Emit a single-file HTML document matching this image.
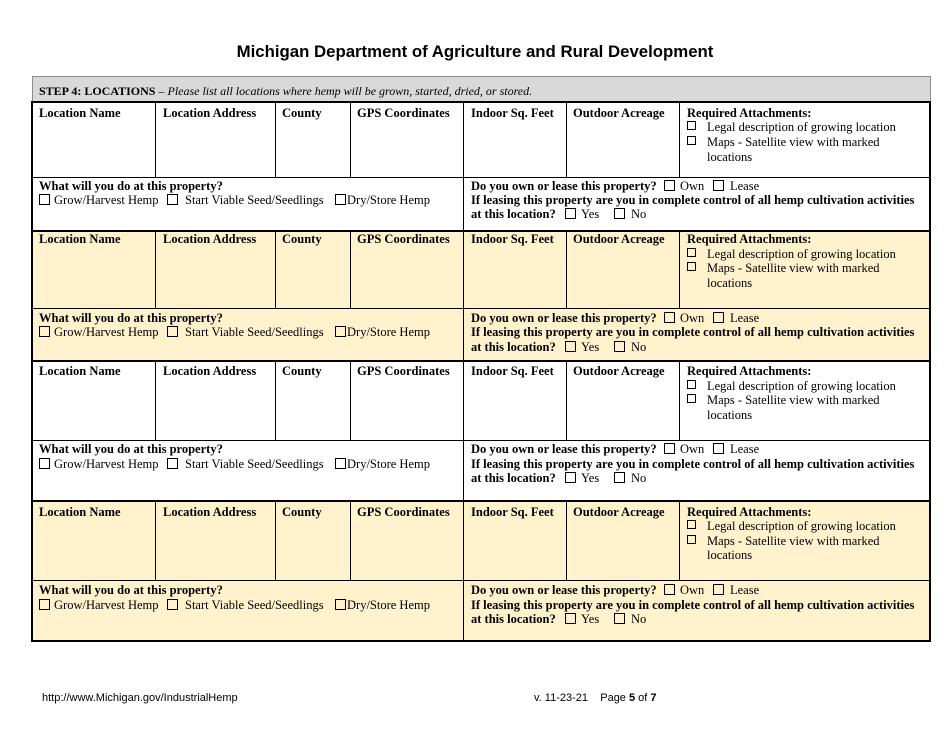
<!DOCTYPE html>
<html><head><meta charset="utf-8"><style>
html,body{margin:0;padding:0;background:#fff;}
body{width:950px;height:735px;position:relative;overflow:hidden;font-family:"Liberation Serif",serif;color:#000;}
.t{position:absolute;font-size:12.5px;line-height:16px;white-space:nowrap;margin-top:1px;}
.b{font-weight:bold;}
.h{position:absolute;background:#000;height:1px;}
.H{position:absolute;background:#000;height:2px;left:31px;width:900px;}
.v{position:absolute;background:#000;width:1px;}
.cb{position:absolute;width:9px;height:9px;border:1px solid #000;background:transparent;}
.sq{position:absolute;width:7px;height:7px;border:1px solid #000;}
.y{position:absolute;left:33px;width:896px;background:#fff2cc;}
</style></head><body>

<div style="position:absolute;left:0;width:950px;top:41px;text-align:center;font-family:'Liberation Sans',sans-serif;font-weight:bold;font-size:16.8px;line-height:22px;">Michigan Department of Agriculture and Rural Development</div>

<!-- gray header -->
<div style="position:absolute;left:32px;top:76px;width:897px;height:25px;background:#d9d9d9;border:1px solid #8c8c8c;border-bottom:none;"></div>
<div class="t" style="left:39px;top:82px;font-size:12px;"><b>STEP 4: LOCATIONS</b> – <i>Please list all locations where hemp will be grown, started, dried, or stored.</i></div>

<!-- yellow fills -->
<div class="y" style="top:232px;height:129px;"></div>
<div class="y" style="top:502px;height:139px;"></div>

<!-- thick lines -->
<div class="H" style="top:101px;"></div>
<div class="H" style="top:230px;"></div>
<div class="H" style="top:360px;"></div>
<div class="H" style="top:500px;"></div>
<div class="H" style="top:640px;"></div>
<!-- outer verticals -->
<div style="position:absolute;left:31px;top:101px;width:2px;height:541px;background:#000;"></div>
<div style="position:absolute;left:929px;top:101px;width:2px;height:541px;background:#000;"></div>

<!-- thin horizontals -->
<div class="h" style="left:33px;width:896px;top:177px;"></div>
<div class="h" style="left:33px;width:896px;top:308px;"></div>
<div class="h" style="left:33px;width:896px;top:440px;"></div>
<div class="h" style="left:33px;width:896px;top:580px;"></div>

<!-- verticals group 1 -->
<div class="v" style="left:155px;top:103px;height:74px;"></div>
<div class="v" style="left:275px;top:103px;height:74px;"></div>
<div class="v" style="left:350px;top:103px;height:74px;"></div>
<div class="v" style="left:463px;top:103px;height:127px;"></div>
<div class="v" style="left:566px;top:103px;height:74px;"></div>
<div class="v" style="left:679px;top:103px;height:74px;"></div>
<!-- group 2 -->
<div class="v" style="left:155px;top:232px;height:76px;"></div>
<div class="v" style="left:275px;top:232px;height:76px;"></div>
<div class="v" style="left:350px;top:232px;height:76px;"></div>
<div class="v" style="left:463px;top:232px;height:128px;"></div>
<div class="v" style="left:566px;top:232px;height:76px;"></div>
<div class="v" style="left:679px;top:232px;height:76px;"></div>
<!-- group 3 -->
<div class="v" style="left:155px;top:362px;height:78px;"></div>
<div class="v" style="left:275px;top:362px;height:78px;"></div>
<div class="v" style="left:350px;top:362px;height:78px;"></div>
<div class="v" style="left:463px;top:362px;height:138px;"></div>
<div class="v" style="left:566px;top:362px;height:78px;"></div>
<div class="v" style="left:679px;top:362px;height:78px;"></div>
<!-- group 4 -->
<div class="v" style="left:155px;top:502px;height:78px;"></div>
<div class="v" style="left:275px;top:502px;height:78px;"></div>
<div class="v" style="left:350px;top:502px;height:78px;"></div>
<div class="v" style="left:463px;top:502px;height:138px;"></div>
<div class="v" style="left:566px;top:502px;height:78px;"></div>
<div class="v" style="left:679px;top:502px;height:78px;"></div>

<!-- G1 -->
<div class="t b" style="left:39px;top:104px;">Location Name</div>
<div class="t b" style="left:163px;top:104px;">Location Address</div>
<div class="t b" style="left:282px;top:104px;">County</div>
<div class="t b" style="left:357px;top:104px;">GPS Coordinates</div>
<div class="t b" style="left:471px;top:104px;">Indoor Sq. Feet</div>
<div class="t b" style="left:573px;top:104px;">Outdoor Acreage</div>
<div class="t b" style="left:687px;top:104px;">Required Attachments:</div>
<div class="sq" style="left:687px;top:121px;"></div><div class="t" style="left:707px;top:118px;">Legal description of growing location</div>
<div class="sq" style="left:687px;top:136px;"></div><div class="t" style="left:707px;top:133px;">Maps - Satellite view with marked</div>
<div class="t" style="left:707px;top:148px;">locations</div>

<div class="t b" style="left:39px;top:177px;">What will you do at this property?</div>
<div class="cb" style="left:39px;top:194px;"></div><div class="t" style="left:54px;top:191px;">Grow/Harvest Hemp</div>
<div class="cb" style="left:167px;top:194px;"></div><div class="t" style="left:185px;top:191px;">Start Viable Seed/Seedlings</div>
<div class="cb" style="left:335px;top:194px;"></div><div class="t" style="left:347px;top:191px;">Dry/Store Hemp</div>
<div class="t b" style="left:471px;top:177px;">Do you own or lease this property?</div>
<div class="cb" style="left:664px;top:180px;"></div><div class="t" style="left:680px;top:177px;">Own</div>
<div class="cb" style="left:713px;top:180px;"></div><div class="t" style="left:730px;top:177px;">Lease</div>
<div class="t b" style="left:471px;top:191px;">If leasing this property are you in complete control of all hemp cultivation activities</div>
<div class="t b" style="left:471px;top:205px;">at this location?</div>
<div class="cb" style="left:565px;top:208px;"></div><div class="t" style="left:581px;top:205px;">Yes</div>
<div class="cb" style="left:614px;top:208px;"></div><div class="t" style="left:631px;top:205px;">No</div>

<!-- G2 -->
<div class="t b" style="left:39px;top:230px;">Location Name</div>
<div class="t b" style="left:163px;top:230px;">Location Address</div>
<div class="t b" style="left:282px;top:230px;">County</div>
<div class="t b" style="left:357px;top:230px;">GPS Coordinates</div>
<div class="t b" style="left:471px;top:230px;">Indoor Sq. Feet</div>
<div class="t b" style="left:573px;top:230px;">Outdoor Acreage</div>
<div class="t b" style="left:687px;top:230px;">Required Attachments:</div>
<div class="sq" style="left:687px;top:248px;"></div><div class="t" style="left:707px;top:245px;">Legal description of growing location</div>
<div class="sq" style="left:687px;top:262px;"></div><div class="t" style="left:707px;top:259px;">Maps - Satellite view with marked</div>
<div class="t" style="left:707px;top:274px;">locations</div>

<div class="t b" style="left:39px;top:309px;">What will you do at this property?</div>
<div class="cb" style="left:39px;top:326px;"></div><div class="t" style="left:54px;top:323px;">Grow/Harvest Hemp</div>
<div class="cb" style="left:167px;top:326px;"></div><div class="t" style="left:185px;top:323px;">Start Viable Seed/Seedlings</div>
<div class="cb" style="left:335px;top:326px;"></div><div class="t" style="left:347px;top:323px;">Dry/Store Hemp</div>
<div class="t b" style="left:471px;top:309px;">Do you own or lease this property?</div>
<div class="cb" style="left:664px;top:312px;"></div><div class="t" style="left:680px;top:309px;">Own</div>
<div class="cb" style="left:713px;top:312px;"></div><div class="t" style="left:730px;top:309px;">Lease</div>
<div class="t b" style="left:471px;top:323px;">If leasing this property are you in complete control of all hemp cultivation activities</div>
<div class="t b" style="left:471px;top:338px;">at this location?</div>
<div class="cb" style="left:565px;top:341px;"></div><div class="t" style="left:581px;top:338px;">Yes</div>
<div class="cb" style="left:614px;top:341px;"></div><div class="t" style="left:631px;top:338px;">No</div>

<!-- G3 -->
<div class="t b" style="left:39px;top:362px;">Location Name</div>
<div class="t b" style="left:163px;top:362px;">Location Address</div>
<div class="t b" style="left:282px;top:362px;">County</div>
<div class="t b" style="left:357px;top:362px;">GPS Coordinates</div>
<div class="t b" style="left:471px;top:362px;">Indoor Sq. Feet</div>
<div class="t b" style="left:573px;top:362px;">Outdoor Acreage</div>
<div class="t b" style="left:687px;top:362px;">Required Attachments:</div>
<div class="sq" style="left:687px;top:380px;"></div><div class="t" style="left:707px;top:377px;">Legal description of growing location</div>
<div class="sq" style="left:687px;top:394px;"></div><div class="t" style="left:707px;top:391px;">Maps - Satellite view with marked</div>
<div class="t" style="left:707px;top:406px;">locations</div>

<div class="t b" style="left:39px;top:440px;">What will you do at this property?</div>
<div class="cb" style="left:39px;top:458px;"></div><div class="t" style="left:54px;top:455px;">Grow/Harvest Hemp</div>
<div class="cb" style="left:167px;top:458px;"></div><div class="t" style="left:185px;top:455px;">Start Viable Seed/Seedlings</div>
<div class="cb" style="left:335px;top:458px;"></div><div class="t" style="left:347px;top:455px;">Dry/Store Hemp</div>
<div class="t b" style="left:471px;top:440px;">Do you own or lease this property?</div>
<div class="cb" style="left:664px;top:443px;"></div><div class="t" style="left:680px;top:440px;">Own</div>
<div class="cb" style="left:713px;top:443px;"></div><div class="t" style="left:730px;top:440px;">Lease</div>
<div class="t b" style="left:471px;top:455px;">If leasing this property are you in complete control of all hemp cultivation activities</div>
<div class="t b" style="left:471px;top:469px;">at this location?</div>
<div class="cb" style="left:565px;top:472px;"></div><div class="t" style="left:581px;top:469px;">Yes</div>
<div class="cb" style="left:614px;top:472px;"></div><div class="t" style="left:631px;top:469px;">No</div>

<!-- G4 -->
<div class="t b" style="left:39px;top:503px;">Location Name</div>
<div class="t b" style="left:163px;top:503px;">Location Address</div>
<div class="t b" style="left:282px;top:503px;">County</div>
<div class="t b" style="left:357px;top:503px;">GPS Coordinates</div>
<div class="t b" style="left:471px;top:503px;">Indoor Sq. Feet</div>
<div class="t b" style="left:573px;top:503px;">Outdoor Acreage</div>
<div class="t b" style="left:687px;top:503px;">Required Attachments:</div>
<div class="sq" style="left:687px;top:520px;"></div><div class="t" style="left:707px;top:517px;">Legal description of growing location</div>
<div class="sq" style="left:687px;top:535px;"></div><div class="t" style="left:707px;top:532px;">Maps - Satellite view with marked</div>
<div class="t" style="left:707px;top:546px;">locations</div>

<div class="t b" style="left:39px;top:581px;">What will you do at this property?</div>
<div class="cb" style="left:39px;top:599px;"></div><div class="t" style="left:54px;top:596px;">Grow/Harvest Hemp</div>
<div class="cb" style="left:167px;top:599px;"></div><div class="t" style="left:185px;top:596px;">Start Viable Seed/Seedlings</div>
<div class="cb" style="left:335px;top:599px;"></div><div class="t" style="left:347px;top:596px;">Dry/Store Hemp</div>
<div class="t b" style="left:471px;top:581px;">Do you own or lease this property?</div>
<div class="cb" style="left:664px;top:584px;"></div><div class="t" style="left:680px;top:581px;">Own</div>
<div class="cb" style="left:713px;top:584px;"></div><div class="t" style="left:730px;top:581px;">Lease</div>
<div class="t b" style="left:471px;top:596px;">If leasing this property are you in complete control of all hemp cultivation activities</div>
<div class="t b" style="left:471px;top:610px;">at this location?</div>
<div class="cb" style="left:565px;top:613px;"></div><div class="t" style="left:581px;top:610px;">Yes</div>
<div class="cb" style="left:614px;top:613px;"></div><div class="t" style="left:631px;top:610px;">No</div>

<!-- footer -->
<div style="position:absolute;left:42px;top:691px;font-family:'Liberation Sans',sans-serif;font-size:11px;line-height:14px;white-space:nowrap;">http://www.Michigan.gov/IndustrialHemp</div>
<div style="position:absolute;left:534px;top:691px;font-family:'Liberation Sans',sans-serif;font-size:11px;line-height:14px;white-space:nowrap;">v. 11-23-21&nbsp;&nbsp;&nbsp;&nbsp;Page <b>5</b> of <b>7</b></div>

</body></html>
